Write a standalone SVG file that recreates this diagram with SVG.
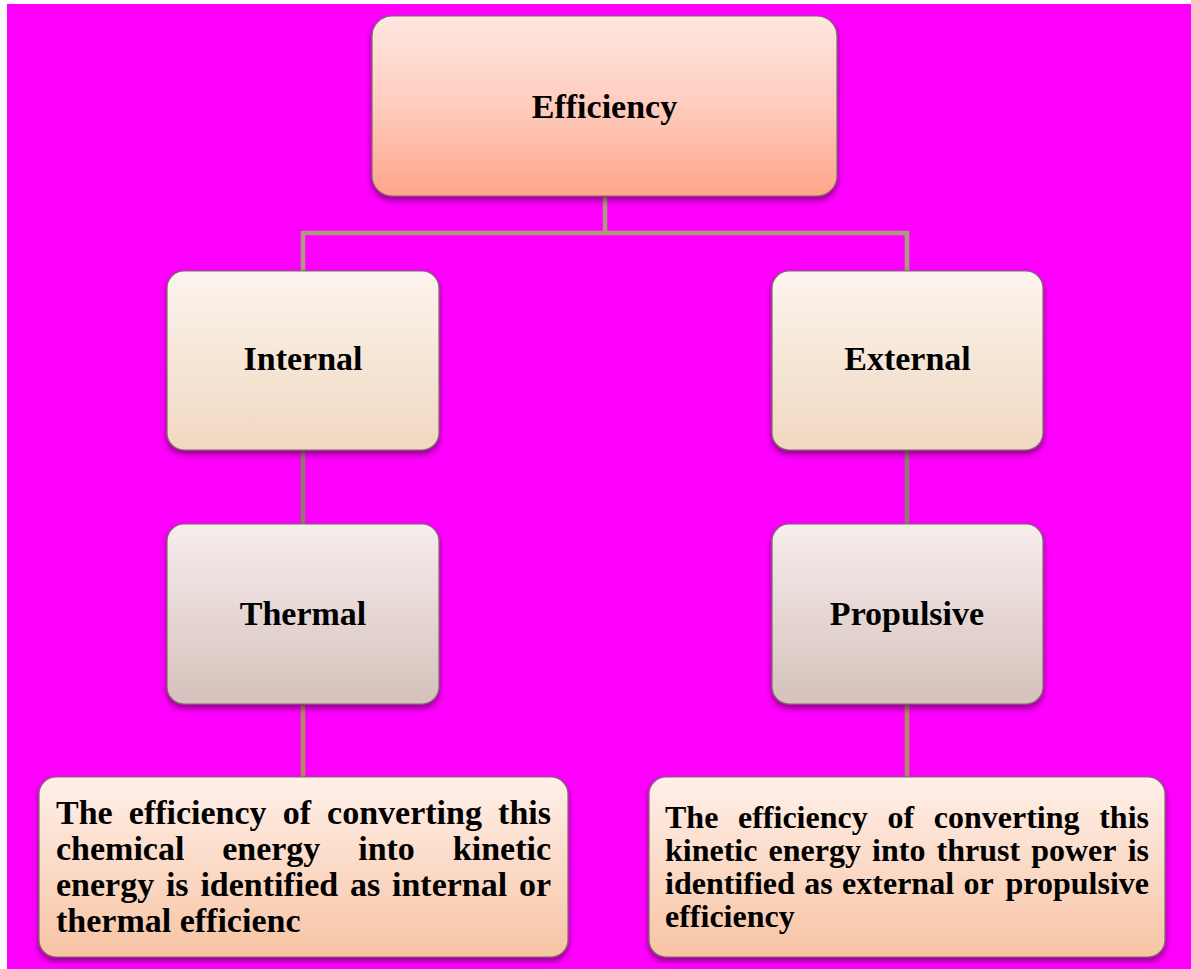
<svg xmlns="http://www.w3.org/2000/svg" width="1191" height="969" viewBox="0 0 1191 969">
<style>
.lbl{font-family:"Liberation Serif","Times New Roman",serif;font-weight:bold;fill:#000;font-variant-ligatures:none}
.big{font-size:34px}
.box{stroke:#7a6a6a;stroke-width:1.2}
.c1{stroke:#ab9a7e;stroke-width:4.5;fill:none}
.c2{stroke:#8f7a6c;stroke-width:4.5;fill:none}
.c3{stroke:#b08a60;stroke-width:4.5;fill:none}
</style>
<defs>
<linearGradient id="gTop" x1="0" y1="0" x2="0" y2="1"><stop offset="0" stop-color="#ffe7e0"/><stop offset="0.5" stop-color="#ffccbd"/><stop offset="1" stop-color="#ffa58a"/></linearGradient>
<linearGradient id="gMid" x1="0" y1="0" x2="0" y2="1"><stop offset="0" stop-color="#fcf4ee"/><stop offset="1" stop-color="#f0d8c0"/></linearGradient>
<linearGradient id="gLow" x1="0" y1="0" x2="0" y2="1"><stop offset="0" stop-color="#f6eded"/><stop offset="1" stop-color="#d6c1bb"/></linearGradient>
<linearGradient id="gBot" x1="0" y1="0" x2="0" y2="1"><stop offset="0" stop-color="#fff0e9"/><stop offset="1" stop-color="#f7c4a4"/></linearGradient>
<filter id="sh" x="-10%" y="-10%" width="120%" height="125%"><feDropShadow dx="0" dy="4" stdDeviation="3" flood-color="#3a0030" flood-opacity="0.55"/></filter>
</defs>
<rect x="0" y="0" width="1191" height="969" fill="#ffffff"/>
<rect x="7" y="4" width="1184" height="965" fill="#ff00ff"/>
<g id="connectors">
<path class="c1" d="M605 197V233M303 233H908M303 231V271M907 231V271"/>
<path class="c2" d="M303 450V524M907 450V524"/>
<path class="c3" d="M303 705V777M907 705V777"/>
</g>
<g id="efficiency">
<rect class="box" x="372" y="16" width="465" height="180" rx="20" fill="url(#gTop)" filter="url(#sh)"/>
<text class="lbl big" x="604.5" y="118" text-anchor="middle">Efficiency</text>
</g>
<g id="internal">
<rect class="box" x="167" y="271" width="272" height="179" rx="17" fill="url(#gMid)" filter="url(#sh)"/>
<text class="lbl big" x="303" y="370" text-anchor="middle">Internal</text>
</g>
<g id="external">
<rect class="box" x="772" y="271" width="271" height="179" rx="17" fill="url(#gMid)" filter="url(#sh)"/>
<text class="lbl big" x="907.5" y="370" text-anchor="middle">External</text>
</g>
<g id="thermal">
<rect class="box" x="167" y="524" width="272" height="180" rx="17" fill="url(#gLow)" filter="url(#sh)"/>
<text class="lbl big" x="303" y="625" text-anchor="middle">Thermal</text>
</g>
<g id="propulsive">
<rect class="box" x="772" y="524" width="271" height="180" rx="17" fill="url(#gLow)" filter="url(#sh)"/>
<text class="lbl big" x="907" y="625" text-anchor="middle">Propulsive</text>
</g>
<g id="internal-desc">
<rect class="box" x="39" y="777" width="529" height="180" rx="17" fill="url(#gBot)" filter="url(#sh)"/>
<text class="lbl" font-size="34" y="824"><tspan x="56">The</tspan><tspan x="128.8">efficiency</tspan><tspan x="282.7">of</tspan><tspan x="327.1">converting</tspan><tspan x="551" text-anchor="end">this</tspan></text>
<text class="lbl" font-size="34" y="860"><tspan x="56">chemical</tspan><tspan x="222.2">energy</tspan><tspan x="358.2">into</tspan><tspan x="551" text-anchor="end">kinetic</tspan></text>
<text class="lbl" font-size="34" y="896"><tspan x="56">energy</tspan><tspan x="165.9">is</tspan><tspan x="200.4">identified</tspan><tspan x="350">as</tspan><tspan x="392">internal</tspan><tspan x="551" text-anchor="end">or</tspan></text>
<text class="lbl" font-size="34" x="56" y="932">thermal efficienc</text>
</g>
<g id="external-desc">
<rect class="box" x="649" y="777" width="516" height="180" rx="17" fill="url(#gBot)" filter="url(#sh)"/>
<text class="lbl" font-size="32" y="828"><tspan x="665">The</tspan><tspan x="738">efficiency</tspan><tspan x="887.4">of</tspan><tspan x="933.8">converting</tspan><tspan x="1149" text-anchor="end">this</tspan></text>
<text class="lbl" font-size="32" y="861"><tspan x="665">kinetic</tspan><tspan x="768.5">energy</tspan><tspan x="872.1">into</tspan><tspan x="936.5">thrust</tspan><tspan x="1031.2">power</tspan><tspan x="1149" text-anchor="end">is</tspan></text>
<text class="lbl" font-size="32" y="894"><tspan x="665">identified</tspan><tspan x="804.2">as</tspan><tspan x="842.1">external</tspan><tspan x="963.6">or</tspan><tspan x="1149" text-anchor="end">propulsive</tspan></text>
<text class="lbl" font-size="32" x="665" y="927">efficiency</text>
</g>
</svg>
